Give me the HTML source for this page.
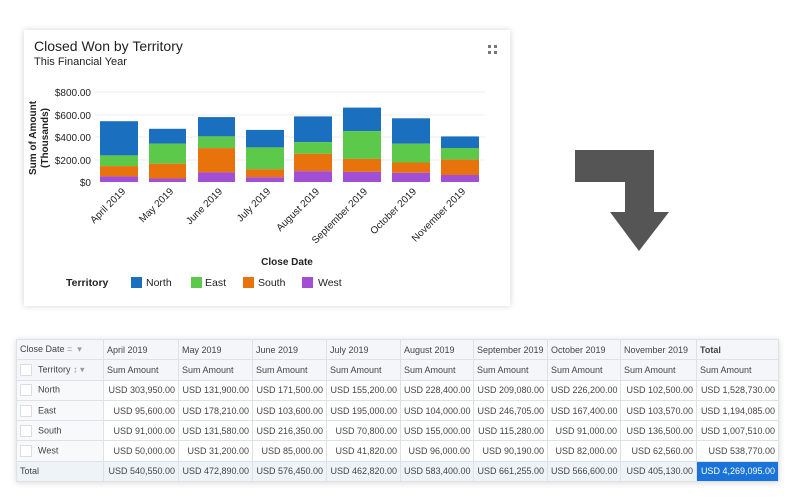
<!DOCTYPE html>
<html><head><meta charset="utf-8"><style>
body{margin:0;width:800px;height:500px;background:#fff;font-family:"Liberation Sans",sans-serif;position:relative;overflow:hidden}
.card{position:absolute;left:24px;top:30px;width:486px;height:276px;background:#fff;box-shadow:0 0 6px rgba(0,0,0,0.18)}
table{position:absolute;left:16px;top:339px;width:762px;border-collapse:collapse;table-layout:fixed;font-size:9px;color:#444;box-shadow:0 1px 6px rgba(0,0,0,0.15)}
td{height:20.3px;border:1px solid #dde2e8;padding:0 3px;white-space:nowrap;overflow:hidden;text-align:right;box-sizing:border-box;vertical-align:middle}
tr.h td{background:#f4f6f9;text-align:left}
tr.t td{background:#eef3f8}
td.f{text-align:left;background:#f7f9fb}
.cb{display:inline-block;width:10px;height:10px;border:1px solid #ddd;background:#fff;vertical-align:middle;margin-right:6px}
</style></head><body>
<div class="card"></div>
<svg width="800" height="500" style="position:absolute;left:0;top:0" font-family="Liberation Sans, sans-serif">
<text x="34" y="51" font-size="14" fill="#222">Closed Won by Territory</text>
<text x="34" y="65" font-size="11" fill="#222">This Financial Year</text>
<g fill="#777"><rect x="488" y="45" width="3" height="3"/><rect x="494" y="45" width="3" height="3"/><rect x="488" y="51" width="3" height="3"/><rect x="494" y="51" width="3" height="3"/></g>
<g stroke="#eee" stroke-width="1"><line x1="95" y1="92" x2="485" y2="92"/><line x1="95" y1="115" x2="485" y2="115"/><line x1="95" y1="137" x2="485" y2="137"/><line x1="95" y1="160" x2="485" y2="160"/></g>
<g font-size="10" fill="#222" text-anchor="end"><text x="91" y="96">$800.00</text><text x="91" y="119">$600.00</text><text x="91" y="141">$400.00</text><text x="91" y="164">$200.00</text><text x="91" y="186">$0</text></g>
<text transform="translate(36,138) rotate(-90)" font-size="10" font-weight="bold" fill="#222" text-anchor="middle">Sum of Amount</text>
<text transform="translate(48,138) rotate(-90)" font-size="10" font-weight="bold" fill="#222" text-anchor="middle">(Thousands)</text>
<g>
<rect x="100" y="121.2" width="38" height="34.2" fill="#1a6fbf"/><rect x="100" y="155.4" width="38" height="10.7" fill="#5cc94a"/><rect x="100" y="166.1" width="38" height="10.3" fill="#e8720c"/><rect x="100" y="176.4" width="38" height="5.6" fill="#a24fd6"/>
<rect x="149" y="128.8" width="37" height="14.8" fill="#1a6fbf"/><rect x="149" y="143.6" width="37" height="20.1" fill="#5cc94a"/><rect x="149" y="163.7" width="37" height="14.8" fill="#e8720c"/><rect x="149" y="178.5" width="37" height="3.5" fill="#a24fd6"/>
<rect x="198" y="117.1" width="37" height="19.3" fill="#1a6fbf"/><rect x="198" y="136.4" width="37" height="11.7" fill="#5cc94a"/><rect x="198" y="148.1" width="37" height="24.3" fill="#e8720c"/><rect x="198" y="172.4" width="37" height="9.6" fill="#a24fd6"/>
<rect x="246" y="129.9" width="38" height="17.5" fill="#1a6fbf"/><rect x="246" y="147.4" width="38" height="21.9" fill="#5cc94a"/><rect x="246" y="169.3" width="38" height="8" fill="#e8720c"/><rect x="246" y="177.3" width="38" height="4.7" fill="#a24fd6"/>
<rect x="294" y="116.4" width="38" height="25.7" fill="#1a6fbf"/><rect x="294" y="142.1" width="38" height="11.7" fill="#5cc94a"/><rect x="294" y="153.8" width="38" height="17.4" fill="#e8720c"/><rect x="294" y="171.2" width="38" height="10.8" fill="#a24fd6"/>
<rect x="343" y="107.6" width="38" height="23.5" fill="#1a6fbf"/><rect x="343" y="131.1" width="38" height="27.8" fill="#5cc94a"/><rect x="343" y="158.9" width="38" height="13" fill="#e8720c"/><rect x="343" y="171.9" width="38" height="10.1" fill="#a24fd6"/>
<rect x="392" y="118.3" width="38" height="25.4" fill="#1a6fbf"/><rect x="392" y="143.7" width="38" height="18.8" fill="#5cc94a"/><rect x="392" y="162.5" width="38" height="10.3" fill="#e8720c"/><rect x="392" y="172.8" width="38" height="9.2" fill="#a24fd6"/>
<rect x="441" y="136.4" width="38" height="11.6" fill="#1a6fbf"/><rect x="441" y="148" width="38" height="11.6" fill="#5cc94a"/><rect x="441" y="159.6" width="38" height="15.4" fill="#e8720c"/><rect x="441" y="175" width="38" height="7" fill="#a24fd6"/>
</g>
<g font-size="10" fill="#222" text-anchor="end">
<text transform="translate(126,192) rotate(-45)">April 2019</text>
<text transform="translate(174,192) rotate(-45)">May 2019</text>
<text transform="translate(223,192) rotate(-45)">June 2019</text>
<text transform="translate(271,192) rotate(-45)">July 2019</text>
<text transform="translate(320,192) rotate(-45)">August 2019</text>
<text transform="translate(368,192) rotate(-45)">September 2019</text>
<text transform="translate(417,192) rotate(-45)">October 2019</text>
<text transform="translate(466,192) rotate(-45)">November 2019</text>
</g>
<text x="287" y="265" font-size="10" font-weight="bold" fill="#222" text-anchor="middle">Close Date</text>
<g font-size="10.5" fill="#222"><text x="66" y="286" font-weight="bold">Territory</text>
<rect x="131" y="277" width="11" height="11" fill="#1a6fbf"/><text x="146" y="286">North</text>
<rect x="191" y="277" width="11" height="11" fill="#5cc94a"/><text x="205" y="286">East</text>
<rect x="243" y="277" width="11" height="11" fill="#e8720c"/><text x="258" y="286">South</text>
<rect x="302" y="277" width="11" height="11" fill="#a24fd6"/><text x="318" y="286">West</text></g>
<polygon points="575,150 654,150 654,212 669,212 639,251 610,212 625,212 625,182 575,182" fill="#555"/>
</svg>
<table>
<colgroup><col style="width:87px"><col style="width:75px"><col style="width:74px"><col style="width:74px"><col style="width:74px"><col style="width:73px"><col style="width:74px"><col style="width:73px"><col style="width:76px"><col style="width:82px"></colgroup>
<tr class="h"><td>Close Date <span style="color:#999">= &nbsp;▾</span></td><td>April 2019</td><td>May 2019</td><td>June 2019</td><td>July 2019</td><td>August 2019</td><td>September 2019</td><td>October 2019</td><td>November 2019</td><td><b>Total</b></td></tr>
<tr class="h"><td><span class="cb"></span>Territory <span style="color:#999">↕ ▾</span></td><td>Sum Amount</td><td>Sum Amount</td><td>Sum Amount</td><td>Sum Amount</td><td>Sum Amount</td><td>Sum Amount</td><td>Sum Amount</td><td>Sum Amount</td><td>Sum Amount</td></tr>
<tr><td class="f"><span class="cb"></span>North</td><td>USD 303,950.00</td><td>USD 131,900.00</td><td>USD 171,500.00</td><td>USD 155,200.00</td><td>USD 228,400.00</td><td>USD 209,080.00</td><td>USD 226,200.00</td><td>USD 102,500.00</td><td>USD 1,528,730.00</td></tr>
<tr><td class="f"><span class="cb"></span>East</td><td>USD 95,600.00</td><td>USD 178,210.00</td><td>USD 103,600.00</td><td>USD 195,000.00</td><td>USD 104,000.00</td><td>USD 246,705.00</td><td>USD 167,400.00</td><td>USD 103,570.00</td><td>USD 1,194,085.00</td></tr>
<tr><td class="f"><span class="cb"></span>South</td><td>USD 91,000.00</td><td>USD 131,580.00</td><td>USD 216,350.00</td><td>USD 70,800.00</td><td>USD 155,000.00</td><td>USD 115,280.00</td><td>USD 91,000.00</td><td>USD 136,500.00</td><td>USD 1,007,510.00</td></tr>
<tr><td class="f"><span class="cb"></span>West</td><td>USD 50,000.00</td><td>USD 31,200.00</td><td>USD 85,000.00</td><td>USD 41,820.00</td><td>USD 96,000.00</td><td>USD 90,190.00</td><td>USD 82,000.00</td><td>USD 62,560.00</td><td>USD 538,770.00</td></tr>
<tr class="t"><td style="text-align:left">Total</td><td>USD 540,550.00</td><td>USD 472,890.00</td><td>USD 576,450.00</td><td>USD 462,820.00</td><td>USD 583,400.00</td><td>USD 661,255.00</td><td>USD 566,600.00</td><td>USD 405,130.00</td><td style="background:#1a73d9;color:#fff">USD 4,269,095.00</td></tr>
</table>
</body></html>
